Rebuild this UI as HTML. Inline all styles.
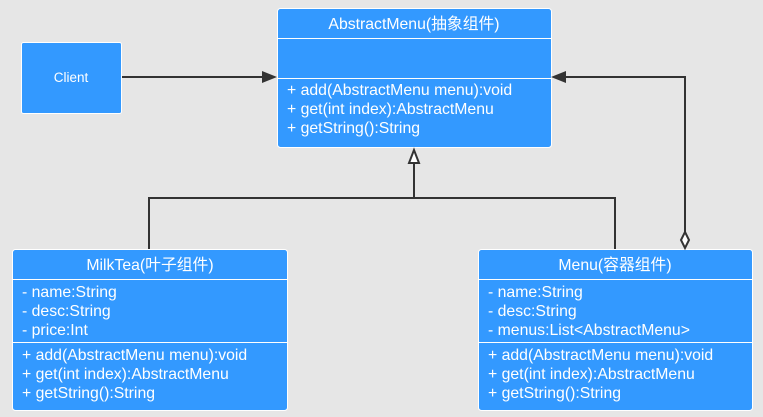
<!DOCTYPE html>
<html><head><meta charset="utf-8"><style>
body{margin:0;width:763px;height:417px;background:#e6e6e6;overflow:hidden}
svg{display:block}
text{font-family:"Liberation Sans","Noto Sans CJK SC",sans-serif;font-size:15.8px;fill:#fff}
</style></head><body>
<svg width="763" height="417" viewBox="0 0 763 417">
<!-- Client -->
<rect x="21.5" y="42.5" width="100" height="71" rx="2" fill="#3399ff" stroke="#fff"/>
<text x="71" y="82" text-anchor="middle" style="font-size:13.5px">Client</text>
<!-- AbstractMenu -->
<rect x="277.5" y="8.5" width="274" height="139" rx="3" fill="#3399ff" stroke="#fff"/>
<line x1="277" y1="38.5" x2="551" y2="38.5" stroke="#fff"/>
<line x1="277" y1="78.5" x2="551" y2="78.5" stroke="#fff"/>
<text x="414" y="29" text-anchor="middle">AbstractMenu(抽象组件)</text>
<text x="287" y="95">+ add(AbstractMenu menu):void</text>
<text x="287" y="114">+ get(int index):AbstractMenu</text>
<text x="287" y="133">+ getString():String</text>
<!-- MilkTea -->
<rect x="12.5" y="249.5" width="275" height="161" rx="3" fill="#3399ff" stroke="#fff"/>
<line x1="12" y1="279.5" x2="287" y2="279.5" stroke="#fff"/>
<line x1="12" y1="342.5" x2="287" y2="342.5" stroke="#fff"/>
<text x="150" y="270" text-anchor="middle">MilkTea(叶子组件)</text>
<text x="22" y="297">- name:String</text>
<text x="22" y="316">- desc:String</text>
<text x="22" y="335">- price:Int</text>
<text x="22" y="360">+ add(AbstractMenu menu):void</text>
<text x="22" y="379">+ get(int index):AbstractMenu</text>
<text x="22" y="398">+ getString():String</text>
<!-- Menu -->
<rect x="478.5" y="249.5" width="274" height="161" rx="3" fill="#3399ff" stroke="#fff"/>
<line x1="478" y1="279.5" x2="752" y2="279.5" stroke="#fff"/>
<line x1="478" y1="342.5" x2="752" y2="342.5" stroke="#fff"/>
<text x="615" y="270" text-anchor="middle">Menu(容器组件)</text>
<text x="488" y="297">- name:String</text>
<text x="488" y="316">- desc:String</text>
<text x="488" y="335">- menus:List&lt;AbstractMenu&gt;</text>
<text x="488" y="360">+ add(AbstractMenu menu):void</text>
<text x="488" y="379">+ get(int index):AbstractMenu</text>
<text x="488" y="398">+ getString():String</text>
<!-- connectors -->
<g stroke="#333" stroke-width="2" fill="none">
<line x1="122" y1="77" x2="266" y2="77"/>
<polyline points="149,249 149,198 615,198 615,249"/>
<line x1="414" y1="198" x2="414" y2="163"/>
<polyline points="685,232 685,77 563,77"/>
</g>
<polygon points="277,77 262,71 262,83" fill="#333"/>
<polygon points="551,77 566,71 566,83" fill="#333"/>
<polygon points="414,150 409,163 419,163" fill="#fff" stroke="#333" stroke-width="2"/>
<polygon points="685,232 689,240 685,248 681,240" fill="#fff" stroke="#333" stroke-width="2"/>
</svg>
</body></html>
